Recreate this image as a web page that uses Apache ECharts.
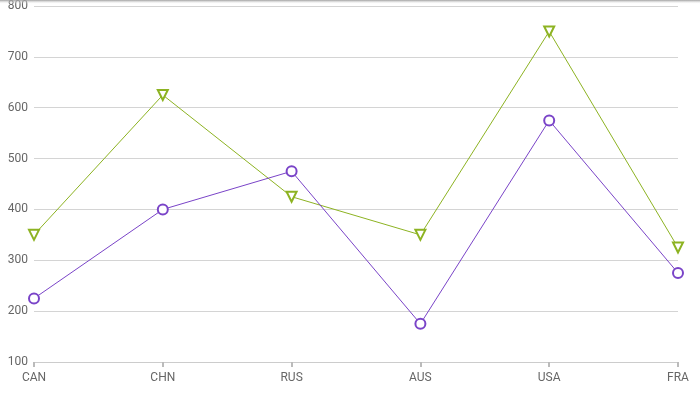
<!DOCTYPE html>
<html><head><meta charset="utf-8">
<script src="https://cdn.jsdelivr.net/npm/echarts@6/dist/echarts.min.js"></script>
<style>html,body{margin:0;padding:0;background:#fff;}#c{width:700px;height:393px;}</style>
</head><body><div id="c"></div>
<script>
const categories = ['CAN','CHN','RUS','AUS','USA','FRA'];
const purpleValues = [225, 400, 475, 175, 575, 275];
const greenValues = [350, 625, 425, 350, 750, 325];
const yTicks = {min: 100, max: 800, interval: 100};

const chart = echarts.init(document.getElementById('c'), null, {renderer: 'canvas'});
chart.setOption({
  animation: false,
  backgroundColor: '#fff',
  graphic: [{
    type: 'rect', left: 0, top: 0, shape: {width: 700, height: 4}, z: 100,
    style: {fill: new echarts.graphic.LinearGradient(0, 0, 0, 1, [
      {offset: 0, color: 'rgba(150,150,150,0.9)'},
      {offset: 1, color: 'rgba(255,255,255,0)'}
    ])}
  }],
  grid: {left: 34, right: 22, top: 6, bottom: 31, containLabel: false},
  xAxis: {
    type: 'category', data: categories, boundaryGap: false,
    axisLine: {show: true, lineStyle: {color: '#cccccc', width: 1}},
    axisTick: {show: true, alignWithLabel: true, length: 5, lineStyle: {color: '#bbbbbb', width: 2}},
    axisLabel: {color: '#666', fontSize: 12, fontFamily: 'Roboto', margin: 10},
    splitLine: {show: false}
  },
  yAxis: {
    type: 'value', min: yTicks.min, max: yTicks.max, interval: yTicks.interval,
    axisLine: {show: false}, axisTick: {show: false},
    axisLabel: {color: '#666', fontSize: 12, fontFamily: 'Roboto', margin: 6},
    splitLine: {lineStyle: {color: '#d4d4d4', width: 1}}
  },
  series: [
    {
      type: 'line', data: greenValues, symbol: 'triangle', symbolRotate: 180, symbolSize: 10,
      lineStyle: {color: '#8db322', width: 1},
      itemStyle: {color: '#fff', borderColor: '#8db322', borderWidth: 2},
      z: 2
    },
    {
      type: 'line', data: purpleValues, symbol: 'circle', symbolSize: 10,
      lineStyle: {color: '#7a44c8', width: 1},
      itemStyle: {color: '#fff', borderColor: '#7a44c8', borderWidth: 2},
      z: 3
    }
  ]
});
</script></body></html>
